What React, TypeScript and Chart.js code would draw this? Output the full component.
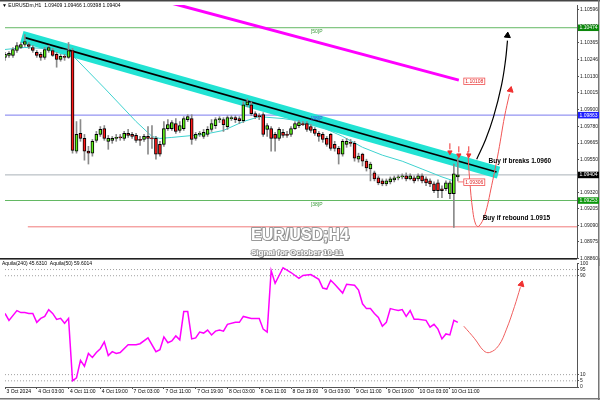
import React, { useEffect, useRef } from "react";
import { Chart, registerables } from "chart.js";
Chart.register(...registerables);

const FONT = '"Liberation Sans", Arial, sans-serif';

// ---------- x-axis (H1 bars, one label every 8 bars) ----------
const tickLabels = ["3 Oct 2024", "4 Oct 03:00", "4 Oct 11:00", "4 Oct 19:00", "7 Oct 03:00", "7 Oct 11:00", "7 Oct 19:00", "8 Oct 03:00", "8 Oct 11:00", "8 Oct 19:00", "9 Oct 03:00", "9 Oct 11:00", "9 Oct 19:00", "10 Oct 03:00", "10 Oct 11:00"];

// ---------- price axis labels ----------
const priceTicks = [1.10596, 1.10481, 1.10365, 1.10246, 1.1013, 1.10015, 1.099, 1.0978, 1.09665, 1.0955, 1.09435, 1.0932, 1.09205, 1.0909, 1.08975, 1.0886];
const oscTicks = [100, 95, 90, 10, 5, 0];

// ---------- EURUSD H1 candles ----------
const opens = [
  1.10264, 1.10278, 1.10278, 1.10312, 1.10333, 1.10354, 1.10354, 1.10333, 1.10299, 1.10285, 1.10264, 1.10312, 1.10312, 1.10285, 1.1025, 1.10271, 1.10264,
  1.10312, 1.09608, 1.09732, 1.09697, 1.09608, 1.09594, 1.09684, 1.09725, 1.09766, 1.09677, 1.09684, 1.09697, 1.09704, 1.09697, 1.09732, 1.09725, 1.09718,
  1.0969, 1.0969, 1.09711, 1.09697, 1.09697, 1.09656, 1.09656, 1.09766, 1.09766, 1.09801, 1.09753, 1.09766, 1.09829, 1.09836, 1.09697, 1.09725, 1.09711,
  1.09725, 1.0976, 1.09787, 1.09829, 1.09829, 1.0978, 1.09836, 1.09842, 1.09836, 1.09822, 1.09932, 1.09932, 1.0987, 1.09856, 1.09863, 1.0976, 1.09766,
  1.09725, 1.09697, 1.09739, 1.09725, 1.09725, 1.09766, 1.09787, 1.09801, 1.09801, 1.0978, 1.0976, 1.09732, 1.09725, 1.09697, 1.09725, 1.09656, 1.09628,
  1.09587, 1.09656, 1.0967, 1.09663, 1.09552, 1.09587, 1.09538, 1.09483, 1.09456, 1.09421, 1.094, 1.09379, 1.09393, 1.09407, 1.09421, 1.09428, 1.09435,
  1.09414, 1.09421, 1.09414, 1.09435, 1.09414, 1.094, 1.09379, 1.09386, 1.09345, 1.09345, 1.0931, 1.0931, 1.09428,
];
const highs = [
  1.10299, 1.10305, 1.10333, 1.10368, 1.10368, 1.10423, 1.10368, 1.10347, 1.10312, 1.10299, 1.10333, 1.10347, 1.10326, 1.10299, 1.10285, 1.10285, 1.10368,
  1.10326, 1.09815, 1.09829, 1.09725, 1.09642, 1.0969, 1.09746, 1.0978, 1.09787, 1.09718, 1.09711, 1.09725, 1.09725, 1.09746, 1.0976, 1.09739, 1.09732,
  1.09711, 1.09725, 1.0978, 1.09787, 1.09711, 1.09677, 1.09815, 1.09829, 1.09822, 1.09836, 1.09815, 1.09849, 1.09863, 1.09863, 1.09739, 1.09746, 1.0976,
  1.0978, 1.09829, 1.09842, 1.09849, 1.09842, 1.09856, 1.09856, 1.09856, 1.09849, 1.09953, 1.09974, 1.09953, 1.09884, 1.0987, 1.09877, 1.09801, 1.0978,
  1.09739, 1.09773, 1.0976, 1.09746, 1.0978, 1.09815, 1.09822, 1.09815, 1.09815, 1.09794, 1.09773, 1.09746, 1.09739, 1.09711, 1.09732, 1.09677, 1.09642,
  1.0969, 1.09697, 1.0969, 1.09677, 1.09594, 1.09594, 1.09552, 1.09531, 1.09469, 1.09435, 1.09414, 1.09414, 1.09428, 1.09435, 1.09442, 1.09449, 1.09456,
  1.09449, 1.09435, 1.09449, 1.09449, 1.09428, 1.09414, 1.09393, 1.09407, 1.09366, 1.094, 1.094, 1.09518, 1.09559,
];
const lows = [
  1.10243, 1.10264, 1.10264, 1.10299, 1.10326, 1.1034, 1.10326, 1.10299, 1.10264, 1.10243, 1.1025, 1.10299, 1.10271, 1.10195, 1.10237, 1.10243, 1.10257,
  1.09594, 1.09594, 1.09677, 1.09545, 1.09518, 1.09573, 1.0967, 1.09711, 1.09684, 1.09621, 1.09663, 1.09677, 1.09684, 1.09684, 1.09704, 1.09697, 1.0967,
  1.09649, 1.09677, 1.09587, 1.09628, 1.09552, 1.09573, 1.09642, 1.09753, 1.09753, 1.09732, 1.09739, 1.09753, 1.09815, 1.09656, 1.09684, 1.09711, 1.09697,
  1.09711, 1.09746, 1.09766, 1.09808, 1.09746, 1.0976, 1.09822, 1.09808, 1.09801, 1.09808, 1.09918, 1.09856, 1.09836, 1.09829, 1.09711, 1.09711, 1.09608,
  1.09608, 1.09684, 1.09704, 1.09704, 1.09711, 1.0976, 1.09773, 1.09787, 1.09746, 1.09739, 1.09718, 1.09677, 1.0967, 1.09642, 1.09614, 1.09608, 1.09518,
  1.09573, 1.09635, 1.09642, 1.09538, 1.09531, 1.09504, 1.09469, 1.094, 1.094, 1.09373, 1.09366, 1.09366, 1.09379, 1.09393, 1.09407, 1.09414, 1.094,
  1.09407, 1.09386, 1.094, 1.09386, 1.09366, 1.09359, 1.09317, 1.09283, 1.09283, 1.09331, 1.09276, 1.09075, 1.094,
];
const closes = [
  1.10285, 1.10292, 1.10319, 1.10347, 1.10354, 1.10374, 1.1034, 1.10312, 1.10278, 1.10264, 1.10319, 1.10333, 1.10278, 1.1025, 1.10271, 1.10264, 1.10312,
  1.09614, 1.09725, 1.09697, 1.09608, 1.09594, 1.09677, 1.09725, 1.0976, 1.09697, 1.09697, 1.09697, 1.09704, 1.09701, 1.09732, 1.09718, 1.09711, 1.09684,
  1.09684, 1.09711, 1.09697, 1.09694, 1.09587, 1.09587, 1.09766, 1.09794, 1.09808, 1.09746, 1.09787, 1.09836, 1.09849, 1.0969, 1.09725, 1.09732, 1.09739,
  1.0976, 1.09801, 1.09829, 1.09836, 1.09794, 1.09842, 1.09842, 1.09829, 1.09822, 1.09932, 1.09953, 1.0987, 1.09849, 1.09849, 1.09725, 1.09787, 1.09697,
  1.09697, 1.0976, 1.09718, 1.09718, 1.09766, 1.09801, 1.09808, 1.09794, 1.0976, 1.09753, 1.09732, 1.09711, 1.0969, 1.09656, 1.09628, 1.09628, 1.09587,
  1.09677, 1.09677, 1.09663, 1.09559, 1.09573, 1.09538, 1.0949, 1.09518, 1.09414, 1.09386, 1.09379, 1.094, 1.09414, 1.09421, 1.09428, 1.09435, 1.09414,
  1.09435, 1.094, 1.09435, 1.094, 1.09386, 1.09379, 1.09331, 1.09331, 1.09331, 1.09386, 1.09386, 1.09449, 1.09442,
];

// ---------- overlays on the price pane ----------
const maBars = [0, 5, 10, 16, 17, 25, 33, 37, 39, 42, 50, 55, 60, 64, 70, 75, 80, 85, 90, 95, 100, 105, 110, 113];
const maValues = [1.10319, 1.10333, 1.10326, 1.10312, 1.10278, 1.1005, 1.09815, 1.09711, 1.09697, 1.09704, 1.09725, 1.09753, 1.09815, 1.09849, 1.09836, 1.09815, 1.09773, 1.09711, 1.09635, 1.0958, 1.09538, 1.09483, 1.09428, 1.094];
const trendBars = [5, 123.75];
const trendValues = [1.10402, 1.09462];
const bandBars = [4.25, 124.25];
const bandValues = [1.10408, 1.09458];
const ma200Bars = [40, 114.25];
const ma200Values = [1.10657, 1.10105];

const fibo50 = 1.10471;
const fibo38 = 1.0986;
const lastPrice = 1.09442;
const fiboLow = 1.09263;
const supportRed = 1.09079;
const supportStartBar = 5.75;

const blackArrowBars = [118.75, 121, 123, 125, 126, 126.5];
const blackArrowValues = [1.09552, 1.0969, 1.09849, 1.1007, 1.10243, 1.10381];
const blackHead = { x: 126.5, y: 1.10416 };
const redArrowBars = [116.5, 117, 117.75, 118.5, 119.25, 120.75, 122.5, 124.25, 125.75, 127];
const redArrowValues = [1.09608, 1.094, 1.09193, 1.09096, 1.09082, 1.09158, 1.09366, 1.09608, 1.09849, 1.10008];
const redHead = { x: 127.25, y: 1.10036 };
const signalBars = [112, 114.25, 116.75];
const signalHeadValues = [1.09601, 1.0958, 1.0958];
const signalStemValues = [1.09642, 1.09621, 1.09621];

// ---------- Aquila oscillator ----------
const oscBars = [0, 1, 3, 4, 5, 6, 7, 8, 9, 10, 11, 12, 13, 14, 15, 16, 17, 18, 19, 20, 21, 22, 23, 24, 25, 26, 27, 28, 29, 31, 33, 34, 36, 38, 39, 40, 41, 42, 43, 44, 45, 46, 47, 48, 49, 50, 51, 52, 53, 54, 55, 56, 58, 59, 60, 62, 64, 65, 66, 67, 68, 70, 72, 74, 75, 77, 79, 80, 81, 82, 83, 85, 86, 88, 89, 90, 91, 92, 93, 94, 95, 96, 97, 98, 99, 100, 101, 102, 103, 104, 106, 107, 108, 109, 110, 111, 112, 113, 114];
const oscValues = [59.5, 53.9, 61.8, 60.2, 60.2, 59.5, 59.5, 52.3, 55.5, 57.1, 62.6, 59.5, 54.7, 55.5, 51.5, 55.5, 5.0, 7.4, 21.5, 16.8, 27.1, 23.9, 27.9, 31.0, 36.5, 25.5, 28.6, 27.1, 27.9, 34.2, 34.2, 35.0, 39.7, 28.6, 30.2, 40.5, 35.8, 37.3, 41.3, 38.1, 61.0, 61.0, 38.9, 39.7, 44.4, 43.6, 46.0, 42.1, 45.2, 46.0, 45.2, 50.7, 52.3, 52.3, 57.1, 55.5, 55.5, 46.8, 44.4, 94.2, 83.9, 96.5, 92.6, 87.9, 90.2, 91.0, 87.1, 80.0, 79.2, 86.3, 83.1, 76.0, 83.1, 82.3, 78.4, 67.3, 63.4, 63.4, 59.5, 56.3, 49.2, 52.3, 63.4, 62.6, 61.8, 62.6, 57.1, 61.8, 54.7, 54.7, 53.9, 48.4, 50.7, 46.8, 38.9, 42.9, 42.1, 53.9, 52.3];
const oscLevels = [95, 90, 10, 5];
const oscArrowBars = [115.5, 118.25, 120.5, 122, 124.25, 126.25, 128.25, 129.75];
const oscArrowValues = [49.2, 39, 29.4, 27.9, 33.4, 46.8, 65, 80.7];
const oscHead = { x: 130, y: 83.1 };

const X_MAX = 144;

const pts = (bars: number[], vals: number[]) => bars.map((b, i) => ({ x: b, y: vals[i] }));
const hline = (v: number, from = 0) => [{ x: from, y: v }, { x: X_MAX, y: v }];

const lineDs = (data: any[], color: string, width: number, order: number, extra: any = {}) => ({
  type: "line", data, borderColor: color, borderWidth: width, pointRadius: 0, order, tension: 0, ...extra,
});

const overlayA = {
  id: "overlayA",
  afterDraw(chart: any) {
    const { ctx, chartArea: ca, scales } = chart;
    const xs = scales.x, ys = scales.y;
    ctx.save();
    // frame
    ctx.fillStyle = "#444";
    ctx.fillRect(0, 0, 600, 1.5);
    ctx.fillStyle = "#777";
    ctx.fillRect(598, 0, 1.5, chart.height);

    ctx.textBaseline = "middle";
    ctx.textAlign = "left";
    ctx.font = `5px ${FONT}`;
    ctx.fillStyle = "#000";
    ctx.fillText("\u25BC EURUSDm,H1  1.09409 1.09466 1.09398 1.09404", 2, 6);

    // level captions
    const lx = xs.getPixelForValue(77);
    ctx.fillStyle = "#3a9a3a";
    ctx.fillText("[50]P", lx, ys.getPixelForValue(fibo50) + 4);
    ctx.fillStyle = "#4a4ae6";
    ctx.fillText("[38]P", lx, ys.getPixelForValue(fibo38) + 3.5);
    ctx.fillStyle = "#3a9a3a";
    ctx.fillText("[38]P", lx, ys.getPixelForValue(fiboLow) + 4);

    // red price tags on the chart
    const tag = (bar: number, v: number, text: string) => {
      const x = xs.getPixelForValue(bar);
      const y = ys.getPixelForValue(v);
      ctx.fillStyle = "#fff";
      ctx.fillRect(x, y - 3, 21, 6.5);
      ctx.strokeStyle = "#f05050";
      ctx.lineWidth = 0.8;
      ctx.strokeRect(x, y - 3, 21, 6.5);
      ctx.fillStyle = "#e02020";
      ctx.font = `5px ${FONT}`;
      ctx.fillText(text, x + 1.5, y + 0.3);
    };
    tag(115.5, ma200Values[1] - 0.00007, "1.10108");
    ctx.strokeStyle = "#f05050";
    ctx.beginPath();
    ctx.moveTo(xs.getPixelForValue(114), ys.getPixelForValue(1.09393));
    ctx.lineTo(xs.getPixelForValue(115.5), ys.getPixelForValue(1.09393));
    ctx.stroke();
    tag(115.5, 1.09393, "1.09306");

    // axis boxes
    const box = (v: number, text: string, bg: string) => {
      const y = ys.getPixelForValue(v);
      ctx.fillStyle = bg;
      ctx.fillRect(ca.right + 1, y - 3.2, 21, 6.5);
      ctx.fillStyle = "#fff";
      ctx.font = `5px ${FONT}`;
      ctx.fillText(text, ca.right + 2.5, y + 0.2);
    };
    box(fibo50, "1.10474", "#0b870b");
    box(fibo38, "1.09863", "#1e1eff");
    box(lastPrice, "1.09404", "#000");
    box(fiboLow, "1.09253", "#0b960b");

    // comments
    ctx.fillStyle = "#000";
    ctx.font = `bold 6.5px ${FONT}`;
    ctx.fillText("Buy if breaks 1.0960", xs.getPixelForValue(121.75), ys.getPixelForValue(1.09538));
    ctx.fillText("Buy if rebound 1.0915", xs.getPixelForValue(120.25), ys.getPixelForValue(1.09138));

    // title
    const emboss = (text: string, x: number, y: number, size: number, lw: number) => {
      ctx.font = `bold ${size}px ${FONT}`;
      ctx.textAlign = "center";
      ctx.lineJoin = "round";
      ctx.fillStyle = "#5a5a5a";
      ctx.fillText(text, x + 1, y + 1);
      ctx.strokeStyle = "#9a9a9a";
      ctx.lineWidth = lw;
      ctx.strokeText(text, x, y);
      ctx.fillStyle = "#fff";
      ctx.fillText(text, x, y);
    };
    emboss("EUR/USD;H4", 300, 236, 16, 2);
    emboss("Signal for October 10-11", 297, 252.5, 8, 1.6);
    ctx.restore();
  },
};

const overlayB = {
  id: "overlayB",
  afterDraw(chart: any) {
    const { ctx, chartArea: ca } = chart;
    ctx.save();
    ctx.fillStyle = "#222";
    ctx.fillRect(0, 0, ca.right, 1.6);
    ctx.fillStyle = "#777";
    ctx.fillRect(598, 0, 1.5, chart.height);
    ctx.fillRect(0, 140, 600, 1.5);
    ctx.fillStyle = "#000";
    ctx.font = `5px ${FONT}`;
    ctx.textBaseline = "middle";
    ctx.textAlign = "left";
    ctx.fillText("Aquila(240) 45.6310  Aquila(50) 59.6014", 2, 6);
    ctx.restore();
  },
};

export default function App() {
  const refA = useRef<HTMLCanvasElement>(null);
  const refB = useRef<HTMLCanvasElement>(null);

  useEffect(() => {
    const bodyColors = opens.map((o, i) => (closes[i] >= o ? "#5ef01a" : "#ff1a1a"));
    const chartA = new Chart(refA.current as HTMLCanvasElement, {
      type: "bar",
      data: {
        datasets: [
          lineDs(hline(fibo50), "#63b863", 1, 30),
          lineDs(hline(fibo38), "#7a7aee", 1, 30),
          lineDs(hline(lastPrice), "#a9b1b8", 1, 30),
          lineDs(hline(fiboLow), "#63b863", 1, 30),
          lineDs(hline(supportRed, supportStartBar), "#f07a7a", 1, 30),
          lineDs(pts(bandBars, bandValues), "#22e3d3", 12, 25, { borderCapStyle: "butt" }),
          lineDs(pts(trendBars, trendValues), "#000", 1.6, 24),
          lineDs(pts(maBars, maValues), "#3fd2cf", 1, 23),
          lineDs(pts(ma200Bars, ma200Values), "#ff00ff", 3, 23, { clip: 0 }),
          {
            type: "bar",
            data: lows.map((l, i) => ({ x: i, y: [l, highs[i]] })),
            backgroundColor: "#8a8a8a",
            barThickness: 1,
            grouped: false,
            order: 10,
          },
          {
            type: "bar",
            data: opens.map((o, i) => ({ x: i, y: [o, closes[i]] })),
            backgroundColor: bodyColors,
            borderColor: "#000",
            borderWidth: 1,
            borderSkipped: false,
            barThickness: 3,
            minBarLength: 1,
            grouped: false,
            order: 9,
          },
          lineDs(pts(blackArrowBars, blackArrowValues), "#000", 1.2, 4, { tension: 0.4 }),
          lineDs(pts(redArrowBars, redArrowValues), "#f05555", 1, 4, { tension: 0.4 }),
          {
            type: "line",
            data: [blackHead],
            showLine: false,
            pointStyle: "triangle",
            pointRadius: 3.5,
            rotation: 5,
            backgroundColor: "#000",
            borderColor: "#000",
            order: 2,
          },
          {
            type: "line",
            data: [redHead],
            showLine: false,
            pointStyle: "triangle",
            pointRadius: 3.5,
            rotation: 12,
            backgroundColor: "#f03030",
            borderColor: "#f03030",
            order: 2,
          },
          {
            type: "line",
            data: pts(signalBars, signalStemValues),
            showLine: false,
            pointStyle: "line",
            pointRadius: 3,
            rotation: 90,
            borderColor: "#f03030",
            borderWidth: 1,
            order: 2,
          },
          {
            type: "line",
            data: pts(signalBars, signalHeadValues),
            showLine: false,
            pointStyle: "triangle",
            pointRadius: 2.5,
            rotation: 180,
            backgroundColor: "#f03030",
            borderColor: "#f03030",
            order: 1,
          },
        ] as any,
      },
      options: {
        responsive: false,
        devicePixelRatio: 1,
        animation: false,
        events: [],
        layout: { padding: { top: 2, bottom: 8, left: 0, right: 0 } },
        plugins: { legend: { display: false }, tooltip: { enabled: false } },
        scales: {
          x: { type: "linear", min: 0, max: X_MAX, offset: false, display: false },
          y: {
            type: "linear",
            position: "right",
            min: 1.08861,
            max: 1.1063,
            beginAtZero: false,
            afterBuildTicks: (s: any) => {
              s.ticks = priceTicks.map((v) => ({ value: v }));
            },
            afterFit: (s: any) => {
              s.width = 23;
            },
            ticks: {
              autoSkip: false,
              font: { size: 5, family: FONT },
              color: "#222",
              padding: 1,
              callback: (v: any) => Number(v).toFixed(5),
            },
            grid: { drawOnChartArea: false, drawTicks: true, tickLength: 2, color: "#555" },
            border: { display: true, color: "#555" },
          },
        },
      } as any,
      plugins: [overlayA],
    });

    const chartB = new Chart(refB.current as HTMLCanvasElement, {
      type: "line",
      data: {
        datasets: [
          ...oscLevels.map((v) => lineDs(hline(v), "#a0a0a0", 1, 20, { borderDash: [1, 2] })),
          lineDs(pts(oscBars, oscValues), "#ff00ff", 1.5, 5),
          lineDs(pts(oscArrowBars, oscArrowValues), "#f06060", 1, 4, { tension: 0.4 }),
          {
            type: "line",
            data: [oscHead],
            showLine: false,
            pointStyle: "triangle",
            pointRadius: 3.5,
            rotation: 15,
            backgroundColor: "#f03030",
            borderColor: "#f03030",
            order: 2,
          },
        ] as any,
      },
      options: {
        responsive: false,
        devicePixelRatio: 1,
        animation: false,
        events: [],
        layout: { padding: { top: 2, bottom: 0, left: 0, right: 0 } },
        plugins: { legend: { display: false }, tooltip: { enabled: false } },
        scales: {
          x: {
            type: "linear",
            min: 0,
            max: X_MAX,
            offset: false,
            afterBuildTicks: (s: any) => {
              s.ticks = tickLabels.map((_, k) => ({ value: k * 8 }));
            },
            afterFit: (s: any) => {
              s.height = 13;
            },
            ticks: {
              autoSkip: false,
              maxRotation: 0,
              align: "start",
              labelOffset: 1.5,
              padding: 0,
              font: { size: 5, family: FONT },
              color: "#000",
              callback: (_v: any, i: number) => tickLabels[i],
            },
            grid: { drawOnChartArea: false, drawTicks: true, tickLength: 2, color: "#555" },
            border: { display: true, color: "#555" },
          },
          y: {
            type: "linear",
            position: "right",
            min: 0,
            max: 100.3,
            afterBuildTicks: (s: any) => {
              s.ticks = oscTicks.map((v) => ({ value: v }));
            },
            afterFit: (s: any) => {
              s.width = 23;
            },
            ticks: {
              autoSkip: false,
              font: { size: 5, family: FONT },
              color: "#222",
              padding: 1,
            },
            grid: { drawOnChartArea: false, drawTicks: true, tickLength: 2, color: "#555" },
            border: { display: true, color: "#555" },
          },
        },
      } as any,
      plugins: [overlayB],
    });

    return () => {
      chartA.destroy();
      chartB.destroy();
    };
  }, []);

  return (
    <div style={{ position: "fixed", left: 0, top: 0, width: 600, height: 400, background: "#fff", overflow: "hidden" }}>
      <canvas ref={refA} width={600} height={266} style={{ position: "absolute", left: 0, top: 0, width: 600, height: 266 }} />
      <canvas ref={refB} width={600} height={142} style={{ position: "absolute", left: 0, top: 258, width: 600, height: 142 }} />
    </div>
  );
}
